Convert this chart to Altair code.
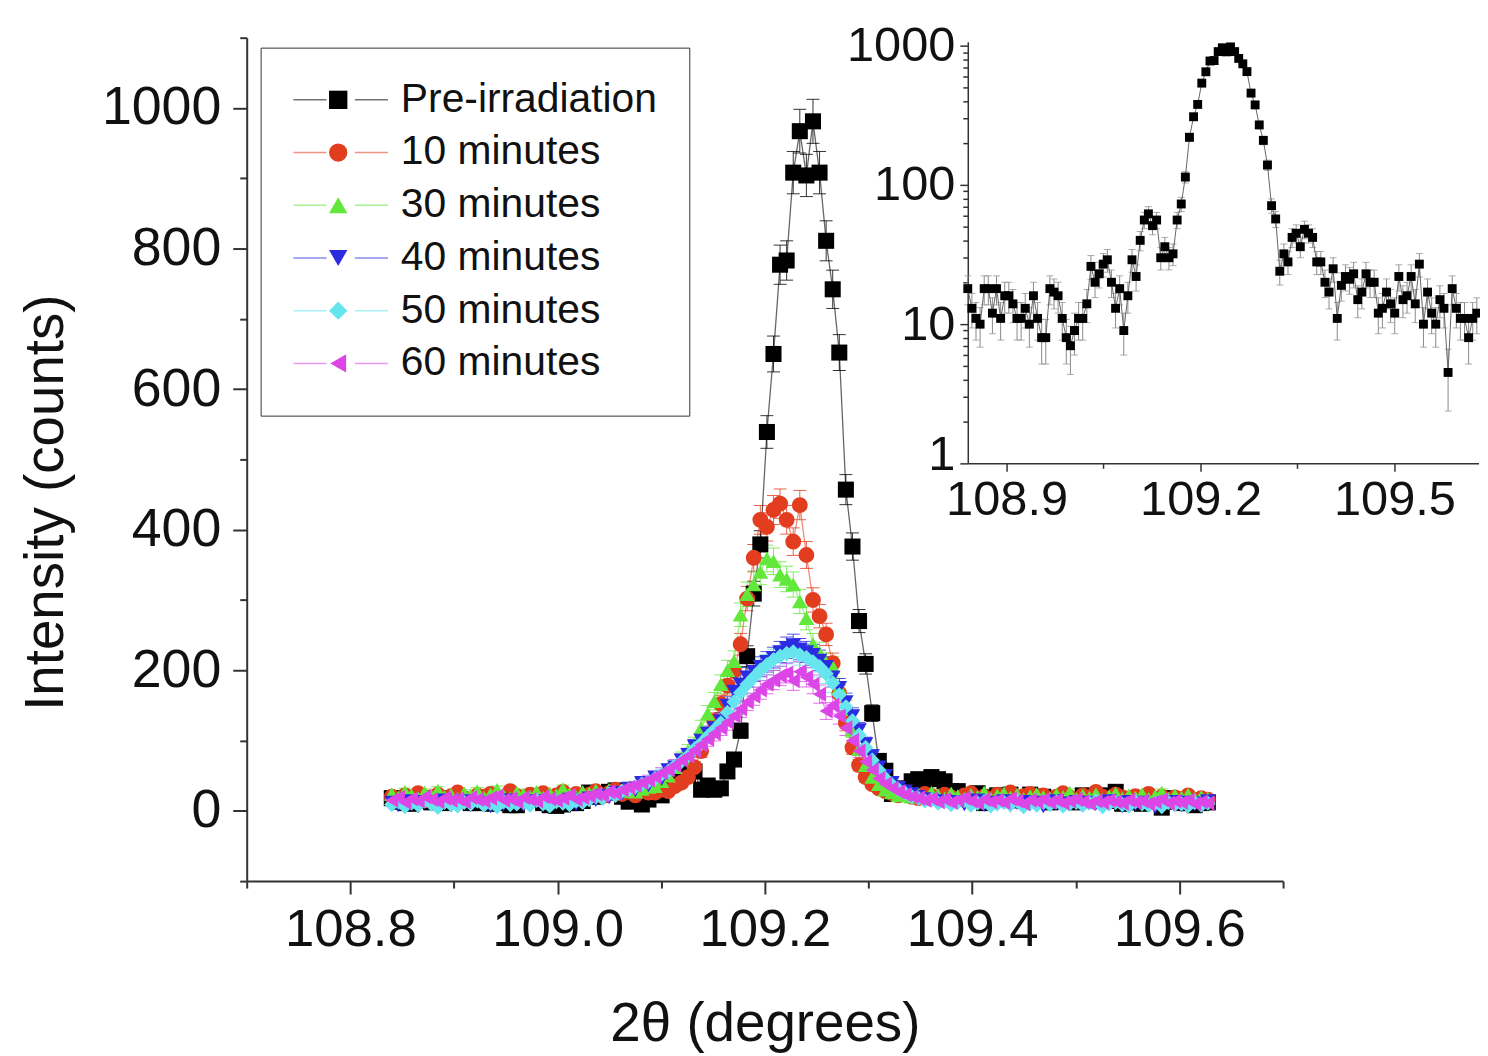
import altair as alt
import pandas as pd

FONT = "Liberation Sans"

SERIES = ["Pre-irradiation", "10 minutes", "30 minutes", "40 minutes", "50 minutes", "60 minutes"]
COLORS = ["#000000", "#E23D1F", "#62E83A", "#2B2BE0", "#66E5EF", "#DC45E6"]
SHAPES = ["square", "circle", "triangle-up", "triangle-down", "diamond", "triangle-left"]
MARK_SIZES = [260, 230, 460, 460, 340, 460]

# scan grid (2-theta, degrees)
X_START = 108.84
X_STEP = 0.00635

PRE = [18, 13, 11, 10, 18, 18, 12, 18, 11, 16,
       16, 14, 11, 11, 13, 10, 16, 11, 8, 8,
       18, 17, 16, 11, 8, 7, 9, 11, 11, 14,
       26, 20, 23, 27, 29, 20, 13, 18, 9, 16,
       29, 22, 40, 56, 62, 51, 56, 30, 36, 30,
       32, 56, 73, 114, 220, 309, 379, 539, 650, 777,
       783, 908, 967, 904, 981, 908, 811, 742, 652, 457,
       376, 270, 209, 139, 71, 57, 24, 32, 28, 42,
       45, 36, 48, 45, 42, 28, 28, 20, 17, 25,
       11, 19, 22, 21, 23, 15, 17, 23, 20, 20,
       12, 13, 17, 14, 12, 22, 15, 16, 22, 14,
       27, 10, 17, 12, 10, 15, 13, 4.5, 18, 13,
       11, 11, 8, 11, 12]

M10 = [20, 16, 22, 18, 25, 15, 19, 23, 17, 21,
       26, 18, 15, 22, 20, 24, 17, 19, 28, 21,
       16, 23, 19, 25, 18, 22, 27, 20, 24, 19,
       23, 28, 21, 25, 30, 24, 27, 22, 29, 26,
       26, 30, 28, 35, 40, 48, 62, 85, 108, 128,
       152, 178, 199, 237, 302, 360, 414, 404, 428, 437,
       414, 383, 435, 364, 300, 277, 251, 210, 167, 125,
       90, 65, 48, 38, 32, 28, 25, 22, 26, 20,
       18, 24, 21, 17, 23, 19, 16, 22, 25, 18,
       20, 15, 23, 19, 26, 17, 21, 24, 18, 22,
       16, 20, 25, 19, 15, 22, 18, 27, 20, 17,
       23, 19, 15, 21, 18, 24, 16, 20, 14, 19,
       17, 22, 15, 18, 16]

M30 = [24, 19, 27, 22, 18, 26, 21, 29, 20, 23,
       17, 25, 22, 28, 19, 24, 30, 21, 18, 26,
       23, 20, 27, 19, 25, 22, 31, 24, 20, 27,
       25, 29, 23, 30, 26, 28, 33, 27, 31, 34,
       35, 42, 50, 62, 75, 85, 95, 118, 138, 156,
       180, 200, 213, 279, 308, 322, 340, 359, 355, 336,
       330, 322, 298, 274, 237, 225, 210, 205, 175, 145,
       115, 88, 65, 48, 38, 30, 26, 22, 27, 20,
       24, 19, 26, 22, 18, 25, 21, 17, 23, 20,
       26, 18, 22, 25, 19, 23, 17, 21, 24, 20,
       18, 23, 20, 26, 17, 22, 19, 24, 16, 21,
       25, 18, 22, 19, 24, 17, 21, 26, 18, 22,
       19, 23, 17, 20, 18]

M40 = [12, 8, 14, 10, 6, 13, 9, 11, 15, 7,
       11, 14, 8, 12, 10, 6, 13, 9, 15, 11,
       8, 12, 14, 10, 7, 13, 11, 16, 9, 14,
       18, 15, 22, 19, 26, 24, 32, 29, 40, 36,
       48, 45, 58, 62, 72, 80, 92, 100, 110, 118,
       128, 150, 170, 180, 190, 198, 205, 212, 218, 226,
       232, 236, 230, 226, 222, 214, 205, 190, 175, 155,
       135, 115, 95, 78, 62, 50, 40, 33, 28, 24,
       20, 17, 15, 12, 14, 10, 13, 9, 11, 15,
       8, 12, 10, 14, 7, 11, 13, 9, 12, 6,
       10, 14, 8, 11, 13, 7, 12, 10, 9, 14,
       11, 6, 13, 9, 12, 8, 5, 11, 10, 13,
       7, 12, 9, 11, 14]

M50 = [9, 13, 6, 11, 8, 14, 10, 5, 12, 9,
       7, 12, 10, 14, 8, 11, 6, 13, 9, 10,
       12, 8, 15, 10, 7, 13, 11, 9, 14, 12,
       16, 20, 18, 24, 22, 28, 30, 34, 38, 42,
       46, 52, 56, 64, 70, 78, 88, 96, 106, 115,
       125, 140, 155, 168, 180, 190, 200, 208, 215, 220,
       224, 226, 222, 218, 212, 205, 195, 182, 165, 148,
       128, 108, 90, 72, 58, 46, 37, 30, 25, 20,
       18, 14, 16, 11, 13, 9, 12, 15, 8, 11,
       13, 7, 10, 12, 9, 14, 6, 11, 8, 12,
       9, 13, 7, 10, 12, 8, 11, 14, 6, 10,
       12, 9, 7, 13, 10, 8, 11, 6, 12, 9,
       10, 7, 12, 8, 11]

M60 = [15, 19, 12, 17, 14, 20, 16, 13, 18, 15,
       17, 13, 19, 16, 14, 18, 21, 15, 17, 13,
       19, 16, 14, 20, 17, 15, 18, 22, 16, 19,
       21, 24, 22, 27, 25, 30, 33, 36, 40, 44,
       48, 54, 58, 65, 72, 78, 86, 94, 102, 110,
       118, 126, 135, 145, 155, 163, 172, 180, 186, 192,
       196, 185, 198, 190, 180, 166, 142, 150, 135, 118,
       100, 85, 70, 58, 46, 38, 32, 27, 23, 20,
       18, 15, 17, 13, 16, 12, 15, 18, 14, 11,
       16, 13, 15, 12, 17, 14, 10, 15, 13, 16,
       12, 15, 11, 14, 16, 13, 10, 14, 12, 15,
       13, 11, 15, 12, 14, 10, 13, 16, 11, 14,
       12, 15, 10, 13, 11]

ALL = [PRE, M10, M30, M40, M50, M60]

X_TICKS = [108.7, 108.8, 108.9, 109.0, 109.1, 109.2, 109.3, 109.4, 109.5, 109.6, 109.7]
Y_TICKS = [-100, 0, 100, 200, 300, 400, 500, 600, 700, 800, 900, 1000, 1100]
INSET_X_TICKS = [108.9, 109.05, 109.2, 109.35, 109.5]
INSET_X_MAJOR = [108.9, 109.2, 109.5]
INSET_Y_TICKS = [1, 2, 3, 4, 5, 6, 7, 8, 9, 10, 20, 30, 40, 50, 60, 70, 80, 90,
                 100, 200, 300, 400, 500, 600, 700, 800, 900, 1000]
INSET_Y_MAJOR = [1, 10, 100, 1000]

xs = [round(X_START + X_STEP * i, 5) for i in range(len(PRE))]
rows, caps = [], []
for name, vals in zip(SERIES, ALL):
    for x, v in zip(xs, vals):
        e = v ** 0.5
        rows.append({"series": name, "x": x, "y": v, "lo": v - e, "hi": v + e})
        caps.append({"series": name, "x": x, "yc": v - e})
        caps.append({"series": name, "x": x, "yc": v + e})
df = pd.DataFrame(rows)
cap_df = pd.DataFrame(caps)
inset_df = df[df["series"] == SERIES[0]].reset_index(drop=True)
inset_caps = cap_df[cap_df["series"] == SERIES[0]].reset_index(drop=True)

AX = dict(grid=False, domainColor="#333333", domainWidth=2, tickColor="#333333", tickWidth=2,
          labelFont=FONT, labelColor="#111111", titleFont=FONT, titleColor="#111111",
          titleFontWeight="normal", labelFlush=False, labelOverlap=False)

mx = "abs(round(datum.value * 10)) % 2 == 0"
X_AX = alt.Axis(orient="bottom", values=X_TICKS, title="2θ (degrees)",
                labelExpr=f"{mx} ? format(datum.value, '.1f') : ''",
                tickSize={"condition": {"test": mx, "value": 13}, "value": 7},
                labelFontSize=53, labelPadding=10, titleFontSize=55,
                titleY=143, titleBaseline="middle", **AX)
my = "datum.value % 200 == 0"
Y_AX = alt.Axis(orient="left", values=Y_TICKS, title="Intensity (counts)",
                labelExpr=f"{my} ? format(datum.value, 'd') : ''",
                tickSize={"condition": {"test": my, "value": 14}, "value": 7},
                labelFontSize=54, labelPadding=12, titleFontSize=55,
                titleX=-202, titleY=467, titleBaseline="middle", **AX)

ix = "indexof(" + str(INSET_X_MAJOR) + ", datum.value) >= 0"
IX_AX = alt.Axis(orient="bottom", offset=-420, values=INSET_X_TICKS, title=None,
                 labelExpr=f"{ix} ? format(datum.value, '.1f') : ''",
                 tickSize={"condition": {"test": ix, "value": 8}, "value": 5},
                 labelFontSize=49, labelPadding=4,
                 **{**AX, "domainWidth": 1.5, "tickWidth": 1.5})
iy = "indexof(" + str(INSET_Y_MAJOR) + ", datum.value) >= 0"
IY_AX = alt.Axis(orient="left", offset=-725, values=INSET_Y_TICKS, title=None,
                 labelExpr=f"{iy} ? format(datum.value, 'd') : ''",
                 tickSize={"condition": {"test": iy, "value": 8}, "value": 5},
                 labelOffset={"condition": {"test": "datum.value == 1", "value": -9}, "value": 0},
                 labelFontSize=49, labelPadding=5,
                 **{**AX, "domainWidth": 1.5, "tickWidth": 1.5})

XS = alt.Scale(domain=[108.7, 109.7], nice=False, zero=False)
YS = alt.Scale(domain=[-100, 1100], nice=False, zero=False)
CS = alt.Scale(domain=SERIES, range=COLORS)
SS = alt.Scale(domain=SERIES, range=SHAPES)
ZS = alt.Scale(domain=SERIES, range=MARK_SIZES)

LINE_LEG = alt.Legend(title=None, orient="none", legendX=14, legendY=10, direction="vertical",
                      symbolType="M-1,0H-0.3M0.3,0H1", symbolSize=9025, symbolStrokeWidth=1.5,
                      symbolOpacity=0.55, labelFont=FONT, labelFontSize=41, labelColor="#111111",
                      labelOffset=12, labelLimit=500, clipHeight=41, rowPadding=11, padding=32,
                      strokeColor="#333333")
PT_LEG = alt.Legend(title=None, orient="none", legendX=39.5, legendY=10, direction="vertical",
                    symbolSize=340, symbolOpacity=1, labelFont=FONT, labelFontSize=41,
                    labelExpr="''", labelLimit=500, rowPadding=11, padding=32)

x_enc = alt.X("x:Q", scale=XS, axis=X_AX)

err = alt.Chart(df).mark_rule(strokeWidth=1, opacity=0.8).encode(
    x=x_enc, y=alt.Y("lo:Q", scale=YS, axis=Y_AX), y2="hi:Q",
    color=alt.Color("series:N", scale=CS, legend=None))
cap = alt.Chart(cap_df).mark_tick(orient="horizontal", size=13, thickness=1, opacity=0.8).encode(
    x=x_enc, y=alt.Y("yc:Q", scale=YS, axis=Y_AX),
    color=alt.Color("series:N", scale=CS, legend=None))
lines = alt.Chart(df).mark_line(strokeWidth=1.3, opacity=0.6).encode(
    x=x_enc, y=alt.Y("y:Q", scale=YS, axis=Y_AX),
    color=alt.Color("series:N", scale=CS, legend=LINE_LEG))
pts = alt.Chart(df).mark_point(filled=True, opacity=1).encode(
    x=x_enc, y=alt.Y("y:Q", scale=YS, axis=Y_AX),
    color=alt.Color("series:N", scale=CS, legend=PT_LEG),
    shape=alt.Shape("series:N", scale=SS, legend=PT_LEG),
    size=alt.Size("series:N", scale=ZS, legend=None))

main = alt.layer(err, cap, lines, pts).resolve_legend(color="independent", shape="independent")

IXS = alt.Scale(domain=[108.84, 109.63], range=[725, 1238.5], nice=False, zero=False)
IYS = alt.Scale(type="log", domain=[1, 1070], range=[428, 4], nice=False)
ix_enc = alt.X("x:Q", scale=IXS, axis=IX_AX)

i_err = alt.Chart(inset_df).mark_rule(strokeWidth=1, color="#8a8a8a").encode(
    x=ix_enc, y=alt.Y("lo:Q", scale=IYS, axis=IY_AX), y2="hi:Q")
i_cap = alt.Chart(inset_caps).mark_tick(orient="horizontal", size=7, thickness=1, color="#8a8a8a").encode(
    x=ix_enc, y=alt.Y("yc:Q", scale=IYS, axis=IY_AX))
i_line = alt.Chart(inset_df).mark_line(strokeWidth=1, color="#666666").encode(
    x=ix_enc, y=alt.Y("y:Q", scale=IYS, axis=IY_AX))
i_pts = alt.Chart(inset_df).mark_point(filled=True, shape="square", size=80, opacity=1, color="#000000").encode(
    x=ix_enc, y=alt.Y("y:Q", scale=IYS, axis=IY_AX))

inset = alt.layer(i_err, i_cap, i_line, i_pts)

chart = alt.layer(main, inset).resolve_scale(x="independent", y="independent").properties(
    width=1042, height=848,
    autosize=alt.AutoSizeParams(type="none"),
    padding={"left": 240, "top": 27, "right": 198, "bottom": 173},
    background="white",
).configure_view(strokeWidth=0)

chart.save("out.html", embed_options={"renderer": "svg", "actions": False})
